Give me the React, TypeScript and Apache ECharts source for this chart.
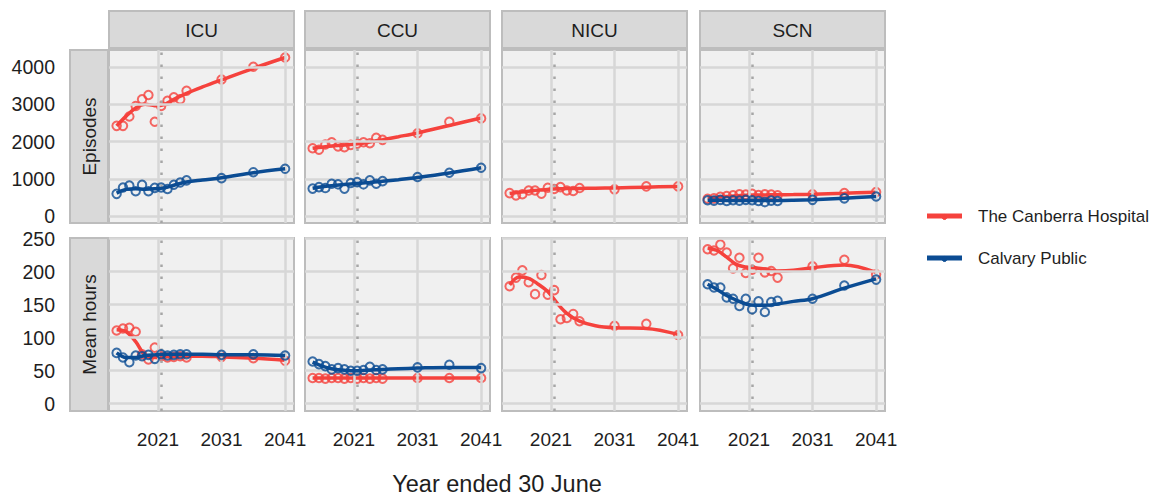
import React, { useEffect, useRef } from "react";
import * as echarts from "echarts";

// ---------- data ----------
const facets = ["ICU", "CCU", "NICU", "SCN"];
const measures = ["Episodes", "Mean hours"];
const hospitals = ["The Canberra Hospital", "Calvary Public"];

const years = [2014.5, 2015.5, 2016.5, 2017.5, 2018.5, 2019.5, 2020.5, 2021.5, 2022.5, 2023.5, 2024.5, 2025.5, 2031, 2036, 2041];
const trendYears = [2014.5, 2016, 2017.5, 2019, 2020.5, 2022, 2023.5, 2025.5, 2028, 2031, 2036, 2041];

const xTicks = [2021, 2031, 2041];
const episodeTicks = [0, 1000, 2000, 3000, 4000];
const hourTicks = [0, 50, 100, 150, 200, 250];
const cutoffYear = 2021.5;

// Episodes – observed / projected points
const icuTchEp = [2420, 2420, 2670, 2950, 3130, 3245, 2530, 2950, 3090, 3185, 3130, 3360, 3660, 4000, 4250];
const icuCalEp = [600, 770, 820, 670, 840, 670, 760, 770, 730, 845, 905, 960, 1020, 1180, 1270];
const ccuTchEp = [1820, 1780, 1920, 1980, 1870, 1850, 1910, 1940, 1980, 1955, 2100, 2045, 2220, 2530, 2620];
const ccuCalEp = [740, 780, 755, 870, 855, 740, 890, 915, 855, 960, 870, 940, 1050, 1165, 1300];
const nicuTchEp = [620, 560, 590, 690, 690, 605, 765, 730, 780, 690, 675, 755, 720, 800, 800];
const scnTchEp = [470, 480, 520, 540, 560, 590, 580, 600, 570, 590, 580, 560, 590, 620, 650];
const scnCalEp = [430, 420, 440, 410, 430, 420, 440, 430, 410, 380, 420, 410, 440, 480, 530];

// Episodes – smoothed trend
const icuTchEpTrend = [2420, 2680, 2900, 3000, 2960, 2990, 3130, 3290, 3460, 3650, 3960, 4250];
const icuCalEpTrend = [620, 720, 735, 725, 735, 760, 830, 915, 970, 1030, 1165, 1270];
const ccuTchEpTrend = [1820, 1850, 1880, 1900, 1920, 1950, 1990, 2050, 2130, 2230, 2430, 2630];
const ccuCalEpTrend = [750, 790, 820, 845, 865, 885, 905, 935, 980, 1040, 1160, 1300];
const nicuTchEpTrend = [610, 640, 670, 700, 720, 735, 740, 745, 750, 760, 780, 800];
const scnTchEpTrend = [480, 510, 530, 550, 565, 570, 572, 575, 580, 590, 615, 645];
const scnCalEpTrend = [430, 428, 425, 422, 420, 420, 420, 420, 428, 445, 485, 530];

// Mean hours – observed / projected points
const icuTchHr = [111, 114, 115, 109, 75, 67, 85, 72, 70, 71, 72, 70, 71, 69, 65];
const icuCalHr = [77, 70, 63, 73, 72, 74, 68, 75, 73, 74, 75, 75, 74, 75, 73];
const ccuTchHr = [39, 39, 38, 39, 39, 38, 39, 38, 39, 38, 39, 38, 39, 39, 39];
const ccuCalHr = [64, 60, 57, 52, 54, 52, 50, 50, 51, 56, 51, 52, 55, 59, 54];
const nicuTchHr = [178, 191, 202, 184, 166, 195, 165, 172, 128, 130, 136, 125, 118, 121, 104];
const scnTchHr = [234, 232, 241, 229, 205, 221, 198, 203, 221, 199, 201, 191, 208, 218, 196];
const scnCalHr = [181, 176, 176, 161, 159, 148, 159, 143, 155, 139, 154, 156, 159, 179, 188];

// Mean hours – smoothed trend
const icuTchHrTrend = [112, 109, 94, 73, 70, 71, 71, 72, 72, 71, 69, 66];
const icuCalHrTrend = [77, 70, 70, 73, 74, 75, 75, 75, 75, 74, 74, 73];
const ccuTchHrTrend = [39, 39, 39, 39, 39, 39, 39, 39, 39, 39, 39, 39];
const ccuCalHrTrend = [63, 57, 53, 51, 50, 50, 51, 52, 53, 54, 55, 55];
const nicuTchHrTrend = [180, 192, 190, 181, 170, 152, 137, 125, 118, 115, 114, 105];
const scnTchHrTrend = [236, 232, 222, 211, 207, 206, 204, 201, 202, 206, 210, 199];
const scnCalHrTrend = [181, 173, 164, 157, 151, 149, 149, 151, 155, 159, 175, 189];

// ---------- style / layout ----------
const RED = "#F5423D";
const BLUE = "#0B4C93";
const FONT = "'Liberation Sans', Arial, Helvetica, sans-serif";
const TEXT = "#1E1E1E";
const COL_LEFT = [109, 305, 502, 700];
const PANEL_W = 185;
const ROW_TOP = [50, 238];
const PANEL_H = 173;
const X_RANGE = [2013.3, 2042.4];
const Y_RANGES = [[-180, 4450], [-11, 251]];

export default function App() {
  const ref = useRef<HTMLDivElement>(null);

  useEffect(() => {
    if (!ref.current) return;
    const chart = echarts.init(ref.current, undefined, { renderer: "svg" });

    const pointsTable = [
      [[icuTchEp, icuCalEp], [ccuTchEp, ccuCalEp], [nicuTchEp, null], [scnTchEp, scnCalEp]],
      [[icuTchHr, icuCalHr], [ccuTchHr, ccuCalHr], [nicuTchHr, null], [scnTchHr, scnCalHr]],
    ];
    const trendTable = [
      [[icuTchEpTrend, icuCalEpTrend], [ccuTchEpTrend, ccuCalEpTrend], [nicuTchEpTrend, null], [scnTchEpTrend, scnCalEpTrend]],
      [[icuTchHrTrend, icuCalHrTrend], [ccuTchHrTrend, ccuCalHrTrend], [nicuTchHrTrend, null], [scnTchHrTrend, scnCalHrTrend]],
    ];
    const tickTable = [episodeTicks, hourTicks];
    const colors = [RED, BLUE];

    const grid: any[] = [];
    const xAxis: any[] = [];
    const yAxis: any[] = [];
    const series: any[] = [];
    const graphic: any[] = [];

    for (let r = 0; r < 2; r++) {
      for (let c = 0; c < 4; c++) {
        const i = r * 4 + c;
        grid.push({
          left: COL_LEFT[c],
          top: ROW_TOP[r],
          width: PANEL_W,
          height: PANEL_H,
          show: true,
          backgroundColor: "#F0F0F0",
          borderColor: "#BDBDBD",
          borderWidth: 2,
        });
        xAxis.push({
          type: "value",
          gridIndex: i,
          min: X_RANGE[0],
          max: X_RANGE[1],
          axisLine: { show: false },
          axisTick: { show: false },
          splitLine: { show: false },
          axisLabel: {
            show: r === 1,
            customValues: xTicks,
            margin: 19,
            fontSize: 19,
            fontFamily: FONT,
            color: TEXT,
            formatter: (v: number) => String(Math.round(v)),
          },
        });
        yAxis.push({
          type: "value",
          gridIndex: i,
          min: Y_RANGES[r][0],
          max: Y_RANGES[r][1],
          axisLine: { show: false },
          axisTick: { show: false },
          splitLine: { show: false },
          axisLabel: {
            show: c === 0,
            customValues: tickTable[r],
            margin: 54,
            fontSize: 19.5,
            fontFamily: FONT,
            color: TEXT,
            formatter: (v: number) => String(Math.round(v)),
          },
        });
        // gridlines + cut-off line
        series.push({
          type: "line",
          xAxisIndex: i,
          yAxisIndex: i,
          data: [[xTicks[0], tickTable[r][0]]],
          showSymbol: false,
          silent: true,
          z: 1,
          lineStyle: { width: 0 },
          markLine: {
            silent: true,
            symbol: ["none", "none"],
            label: { show: false },
            lineStyle: { color: "#D7D7D7", width: 2.5, type: "solid" },
            data: [
              ...xTicks.map((v) => ({ xAxis: v })),
              ...tickTable[r].map((v) => ({ yAxis: v })),
              { xAxis: cutoffYear, lineStyle: { color: "#A6A6A6", width: 2.5, type: [2.5, 9.5] } },
            ],
          },
        });
        for (let h = 0; h < 2; h++) {
          const pts = pointsTable[r][c][h];
          const tr = trendTable[r][c][h];
          if (!pts || !tr) continue;
          series.push({
            type: "line",
            name: hospitals[h],
            xAxisIndex: i,
            yAxisIndex: i,
            data: trendYears.map((x, k) => [x, tr[k]]),
            smooth: 0.35,
            showSymbol: false,
            z: 3 + h * 2,
            lineStyle: { color: colors[h], width: 3.5 },
          });
          series.push({
            type: "scatter",
            name: hospitals[h],
            xAxisIndex: i,
            yAxisIndex: i,
            data: years.map((x, k) => [x, pts[k]]),
            symbol: "circle",
            symbolSize: 8.5,
            z: 4 + h * 2,
            itemStyle: { color: "rgba(0,0,0,0)", borderColor: colors[h], borderWidth: 2 },
          });
        }
      }
    }

    // column strips
    facets.forEach((f, c) => {
      graphic.push({
        type: "rect",
        shape: { x: COL_LEFT[c], y: 11, width: PANEL_W, height: 37 },
        style: { fill: "#D9D9D9", stroke: "#BDBDBD", lineWidth: 2 },
      });
      graphic.push({
        type: "text",
        x: COL_LEFT[c] + PANEL_W / 2,
        y: 30,
        style: {
          text: f,
          fill: TEXT,
          font: `19px ${FONT}`,
          align: "center",
          verticalAlign: "middle",
          textAlign: "center",
          textVerticalAlign: "middle",
        },
      });
    });
    // row strips
    measures.forEach((m, r) => {
      graphic.push({
        type: "rect",
        shape: { x: 70, y: ROW_TOP[r], width: 38, height: PANEL_H },
        style: { fill: "#D9D9D9", stroke: "#BDBDBD", lineWidth: 2 },
      });
      graphic.push({
        type: "text",
        x: 89,
        y: ROW_TOP[r] + PANEL_H / 2,
        rotation: Math.PI / 2,
        style: {
          text: m,
          fill: TEXT,
          font: `19px ${FONT}`,
          align: "center",
          verticalAlign: "middle",
          textAlign: "center",
          textVerticalAlign: "middle",
        },
      });
    });
    // legend
    const legendY = [216, 258];
    hospitals.forEach((h, k) => {
      graphic.push({
        type: "line",
        shape: { x1: 927, y1: legendY[k], x2: 962, y2: legendY[k] },
        style: { stroke: colors[k], lineWidth: 5 },
      });
      graphic.push({
        type: "circle",
        shape: { cx: 944.5, cy: legendY[k] + 1, r: 2.5 },
        style: { fill: colors[k], stroke: colors[k], lineWidth: 1 },
      });
      graphic.push({
        type: "text",
        x: 978,
        y: legendY[k],
        style: {
          text: h,
          fill: TEXT,
          font: `17px ${FONT}`,
          align: "left",
          verticalAlign: "middle",
          textAlign: "left",
          textVerticalAlign: "middle",
        },
      });
    });
    // x-axis title
    graphic.push({
      type: "text",
      x: 497,
      y: 484,
      style: {
        text: "Year ended 30 June",
        fill: TEXT,
        font: `23.5px ${FONT}`,
        align: "center",
        verticalAlign: "middle",
        textAlign: "center",
        textVerticalAlign: "middle",
      },
    });

    chart.setOption({
      animation: false,
      backgroundColor: "#FFFFFF",
      textStyle: { fontFamily: FONT },
      grid,
      xAxis,
      yAxis,
      series,
      graphic,
    });

    return () => chart.dispose();
  }, []);

  return (
    <div
      ref={ref}
      style={{ position: "fixed", left: 0, top: 0, width: 1152, height: 497 }}
    />
  );
}
